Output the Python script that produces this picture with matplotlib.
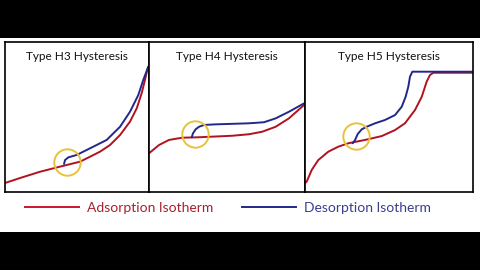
import matplotlib
matplotlib.use("Agg")
import matplotlib.pyplot as plt
from matplotlib.lines import Line2D

plt.rcParams['font.family'] = ['Lato', 'DejaVu Sans']

titles = ["Type H3 Hysteresis", "Type H4 Hysteresis", "Type H5 Hysteresis"]

# relative pressure (x) and amount adsorbed (y), normalised 0..1 per panel
h3_ads_x = [0.0, 0.104, 0.243, 0.382, 0.521, 0.59, 0.66, 0.729, 0.799, 0.868, 0.915, 0.949, 0.972, 0.988, 0.995]
h3_ads_y = [0.06, 0.093, 0.135, 0.169, 0.202, 0.235, 0.269, 0.313, 0.38, 0.469, 0.558, 0.658, 0.747, 0.813, 0.835]
h3_des_x = [0.995, 0.96, 0.926, 0.868, 0.799, 0.706, 0.59, 0.498, 0.44, 0.417, 0.41]
h3_des_y = [0.835, 0.747, 0.647, 0.535, 0.435, 0.347, 0.291, 0.247, 0.231, 0.213, 0.187]
h3_mark = (0.431, 0.202)

h4_ads_x = [0.0, 0.064, 0.128, 0.213, 0.321, 0.534, 0.641, 0.726, 0.812, 0.897, 0.994]
h4_ads_y = [0.258, 0.313, 0.347, 0.362, 0.365, 0.375, 0.385, 0.402, 0.435, 0.491, 0.58]
h4_des_x = [0.994, 0.897, 0.812, 0.737, 0.641, 0.428, 0.353, 0.321, 0.299, 0.282, 0.274]
h4_des_y = [0.591, 0.535, 0.491, 0.465, 0.458, 0.451, 0.447, 0.435, 0.418, 0.391, 0.365]
h4_mark = (0.295, 0.387)

h5_ads_x = [0.0, 0.01, 0.04, 0.079, 0.139, 0.198, 0.258, 0.357, 0.457, 0.536, 0.595, 0.655, 0.695, 0.724, 0.744, 0.764, 1.0]
h5_ads_y = [0.06, 0.069, 0.147, 0.213, 0.269, 0.302, 0.325, 0.347, 0.373, 0.413, 0.458, 0.547, 0.635, 0.735, 0.78, 0.795, 0.795]
h5_des_x = [1.0, 0.639, 0.625, 0.615, 0.599, 0.576, 0.536, 0.476, 0.417, 0.367, 0.338, 0.314, 0.298, 0.284]
h5_des_y = [0.802, 0.802, 0.769, 0.702, 0.635, 0.569, 0.513, 0.48, 0.458, 0.435, 0.418, 0.387, 0.347, 0.325]
h5_mark = (0.302, 0.371)

legend_labels = ["Adsorption Isotherm", "Desorption Isotherm"]

RED = "#b0121f"
BLUE = "#22288a"
GOLD = "#e8c23a"

W, H = 480, 270
fig = plt.figure(figsize=(4.8, 2.7), dpi=100, facecolor="black")
# white band
bg = fig.add_axes([0, (H - 232) / H, 1, (232 - 38) / H])
bg.set_facecolor("white")
bg.set_xticks([]); bg.set_yticks([])
for s in bg.spines.values():
    s.set_visible(False)

panels = [(5, 149), (149, 305), (305, 473)]
top, bottom = 42, 192
data = [
    (h3_ads_x, h3_ads_y, h3_des_x, h3_des_y, h3_mark),
    (h4_ads_x, h4_ads_y, h4_des_x, h4_des_y, h4_mark),
    (h5_ads_x, h5_ads_y, h5_des_x, h5_des_y, h5_mark),
]
for (l, r), title, (ax_, ay_, dx_, dy_, mk) in zip(panels, titles, data):
    ax = fig.add_axes([l / W, (H - bottom) / H, (r - l) / W, (bottom - top) / H])
    ax.set_xlim(0, 1)
    ax.set_ylim(0, 1)
    ax.set_xticks([]); ax.set_yticks([])
    for s in ax.spines.values():
        s.set_linewidth(1.2)
        s.set_color("black")
    ax.plot(ax_, ay_, color=RED, lw=1.4, solid_capstyle="round", solid_joinstyle="round")
    ax.plot(dx_, dy_, color=BLUE, lw=1.4, solid_capstyle="round", solid_joinstyle="round")
    ax.plot([mk[0]], [mk[1]], marker="o", markersize=19, markerfacecolor="none",
            markeredgecolor=GOLD, markeredgewidth=1.4)
    ax.text(0.5, 0.9, title, transform=ax.transAxes, ha="center", va="center",
            fontsize=8.5, color="#111111")

handles = [Line2D([], [], color="#c8182a", lw=1.4), Line2D([], [], color=BLUE, lw=1.4)]
leg = fig.legend(handles, legend_labels, ncol=2, loc="center left",
                 bbox_to_anchor=(25 / W, (H - 208) / H), frameon=False,
                 borderpad=0, borderaxespad=0, handlelength=3.9, handletextpad=0.55,
                 columnspacing=2.1, fontsize=10)
for t, c in zip(leg.get_texts(), ["#a8202e", "#3b3e8f"]):
    t.set_color(c)

fig.savefig("out.png", dpi=100, facecolor="black")
